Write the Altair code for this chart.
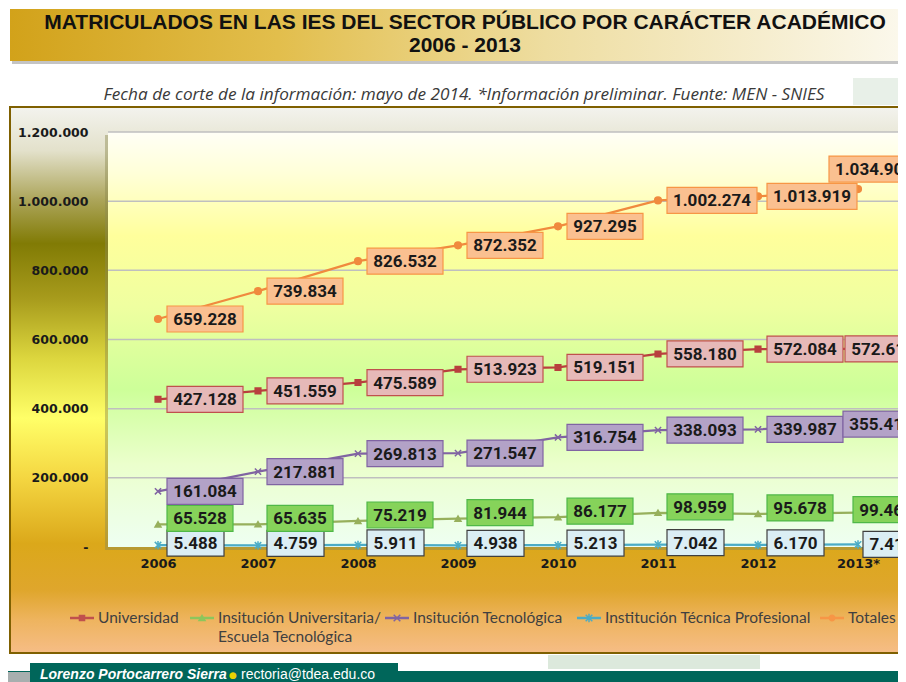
import altair as alt
import pandas as pd

# ---------------- data ----------------
years = [2006, 2007, 2008, 2009, 2010, 2011, 2012, 2013]
year_labels = ["2006", "2007", "2008", "2009", "2010", "2011", "2012", "2013*"]
series_names = [
    "Universidad",
    "Insitución Universitaria/ Escuela Tecnológica",
    "Insitución Tecnológica",
    "Institución Técnica Profesional",
    "Totales",
]
legend_lines = [
    ["Universidad"],
    ["Insitución Universitaria/", "Escuela Tecnológica"],
    ["Insitución Tecnológica"],
    ["Institución Técnica Profesional"],
    ["Totales"],
]
universidad = [427128, 451559, 475589, 513923, 519151, 558180, 572084, 572612]
inst_universitaria = [65528, 65635, 75219, 81944, 86177, 98959, 95678, 99463]
inst_tecnologica = [161084, 217881, 269813, 271547, 316754, 338093, 339987, 355414]
inst_tecnica = [5488, 4759, 5911, 4938, 5213, 7042, 6170, 7417]
totales = [659228, 739834, 826532, 872352, 927295, 1002274, 1013919, 1034906]
y_tick_values = [0, 200000, 400000, 600000, 800000, 1000000, 1200000]

title_line1 = "MATRICULADOS EN LAS IES DEL SECTOR PÚBLICO POR CARÁCTER ACADÉMICO"
title_line2 = "2006 - 2013"
subtitle = "Fecha de corte de la información: mayo de 2014. *Información preliminar. Fuente: MEN - SNIES"
footer_name = "Lorenzo Portocarrero Sierra"
footer_mail = "rectoria@tdea.edu.co"

# ---------------- styles ----------------
line_colors = ["#B8403E", "#97B05C", "#8064A2", "#4BACC6", "#F08A3E"]
legend_colors = ["#C0504D", "#8CC65C", "#8064A2", "#4BACC6", "#F79646"]
box_fill = ["#E6B9B8", "#86D35A", "#B3A2C7", "#DBEEF4", "#FAC090"]
box_stroke = ["#C0504D", "#4FB848", "#8064A2", "#3F3F3F", "#F79646"]
shapes = ["square", "triangle-up", "M-1,-1L1,1M-1,1L1,-1",
          "M-1,-1L1,1M-1,1L1,-1M0,-1.3L0,1.3", "circle"]
sizes = [32, 45, 55, 55, 36]

W, H = 790, 415
OX, OY = 108, 132  # page position of plot origin
RIGHT = OX + W     # page x of the right edge of the drawing


def px(x):
    return x - OX


def py(y):
    return y - OY


all_series = [universidad, inst_universitaria, inst_tecnologica, inst_tecnica, totales]


def fmt(v):
    return f"{v:,}".replace(",", ".")


rows = []
for si, (name, vals) in enumerate(zip(series_names, all_series)):
    for yr, v in zip(years, vals):
        rows.append(dict(series=name, si=si, year=yr, value=v, label=fmt(v)))
df = pd.DataFrame(rows)

xscale = alt.Scale(domain=[2005.5, 2005.5 + W / 100], nice=False, zero=False)
yscale = alt.Scale(domain=[0, 1200000], nice=False)
xlabel_expr = "[" + ",".join(f"'{s}'" for s in year_labels) + f"][datum.value - {years[0]}]"
xaxis = alt.Axis(values=years, labelExpr=xlabel_expr, title=None, domain=False, ticks=False,
                 grid=False, labelFont="DejaVu Sans", labelFontSize=13, labelFontWeight="bold",
                 labelColor="#1a1a1a", labelPadding=10, zindex=1)
yaxis = alt.Axis(values=y_tick_values,
                 labelExpr="datum.value == 0 ? '-' : replace(format(datum.value, ',d'), /,/g, '.')",
                 title=None, domain=False, ticks=False, grid=False, labelFont="DejaVu Sans",
                 labelFontSize=12.5, labelFontWeight="bold", labelColor="#1a1a1a",
                 labelPadding=20, zindex=1)

X = alt.X("year:Q", scale=xscale, axis=xaxis)
Y = alt.Y("value:Q", scale=yscale, axis=yaxis)

one = pd.DataFrame({"k": [0]})


def grad(stops, vertical=True):
    return alt.LinearGradient(
        gradient="linear", x1=0, y1=0, x2=0 if vertical else 1, y2=1 if vertical else 0,
        stops=[alt.GradientStop(offset=o, color=c) for o, c in stops])


def box(x1, y1, x2, y2, **kw):
    return alt.Chart(one).mark_rect(**kw).encode(
        x=alt.value(px(x1)), x2=alt.value(px(x2)), y=alt.value(py(y1)), y2=alt.value(py(y2)))


def txt(x, y, text, **kw):
    return alt.Chart(one).mark_text(text=text, **kw).encode(x=alt.value(px(x)), y=alt.value(py(y)))


layers = []

# outer frame
frame_stops = [(0.0, "#F3F3EE"), (0.08, "#E3E1CB"), (0.17, "#ACA55A"), (0.25, "#817B05"),
               (0.35, "#A79B1C"), (0.46, "#DCD63E"), (0.57, "#FFFF68"), (0.68, "#F4D641"),
               (0.80, "#DBA81A"), (0.885, "#DFA62C"), (0.94, "#EEB45F"), (1.0, "#F6BD86")]
layers.append(box(10, 107, RIGHT + 4, 653, color=grad(frame_stops), stroke="#7F6000", strokeWidth=2))

# banner
layers.append(box(12, 12, RIGHT + 4, 64, color="#C4C4C4"))
banner_stops = [(0.0, "#D2A21A"), (0.3, "#E2BE4C"), (0.6, "#EEDDA0"), (1.0, "#FBF8EC")]
layers.append(box(10, 9, RIGHT + 4, 61, color=grad(banner_stops, vertical=False)))
# subtitle decoration
layers.append(box(853, 78, RIGHT + 4, 105, color="#E8F0E8"))

# plot area shadow + background
layers.append(box(OX - 3, OY + 3, RIGHT, OY + H + 3, color="#8C8A50", opacity=0.45))
plot_stops = [(0.0, "#FFFFF6"), (0.1, "#FFFFD8"), (0.25, "#FFFF9C"), (0.42, "#EFFFA0"),
              (0.62, "#CDFF99"), (0.8, "#EBFFCC"), (1.0, "#EEFFF2")]
layers.append(box(OX, OY, RIGHT, OY + H, color=grad(plot_stops)))

# gridlines
layers.append(alt.Chart(pd.DataFrame({"value": y_tick_values[1:]})).mark_rule(
    color="#BFBFBF", strokeWidth=1.5).encode(y=Y, x=alt.value(0), x2=alt.value(W)))

# lines
layers.append(alt.Chart(df).mark_line(strokeWidth=2.25).encode(
    x=X, y=Y,
    color=alt.Color("series:N", scale=alt.Scale(domain=series_names, range=line_colors), legend=None)))

# points
layers.append(alt.Chart(df).mark_point(filled=True, strokeWidth=1.5, opacity=1).encode(
    x=X, y=Y,
    fill=alt.Fill("series:N", scale=alt.Scale(domain=series_names, range=line_colors), legend=None),
    stroke=alt.Stroke("series:N", scale=alt.Scale(domain=series_names, range=line_colors), legend=None),
    shape=alt.Shape("series:N", scale=alt.Scale(domain=series_names, range=shapes), legend=None),
    size=alt.Size("series:N", scale=alt.Scale(domain=series_names, range=sizes), legend=None)))


# label boxes
def placement(si, yr):
    if yr == years[-1]:
        return {0: -13, 1: -5, 2: -15, 3: 5, 4: -29}[si], {0: 0, 1: -3, 2: 0, 3: 0, 4: -20}[si]
    return 9, {1: -6, 3: -2}.get(si, 0)


def text_width(s):
    nd = sum(c.isdigit() for c in s)
    return round(9.56 * nd + 4.6 * (len(s) - nd) + 14)


groups = {}
for r in rows:
    dx, dy = placement(r["si"], r["year"])
    key = (r["si"], dx, dy, text_width(r["label"]))
    groups.setdefault(key, []).append(r)

for si in [3, 1, 2, 0, 4]:
    for key, grp in groups.items():
        if key[0] != si:
            continue
        _, dx, dy, w = key
        sub = pd.DataFrame(grp)
        layers.append(alt.Chart(sub).mark_rect(
            width=w, height=26, xOffset=dx + w / 2, yOffset=dy,
            fill=box_fill[si], stroke=box_stroke[si], strokeWidth=1.2).encode(x=X, y=Y))
        layers.append(alt.Chart(sub).mark_text(
            font="Roboto", fontSize=17, fontWeight="bold", color="#1a1a1a",
            align="center", baseline="middle", dx=dx + w / 2, dy=dy + 1).encode(
            x=X, y=Y, text="label:N"))

# legend
leg_sym_x = [70, 190, 385, 577, 820]
leg_y = 618
for i, lines in enumerate(legend_lines):
    sx = leg_sym_x[i]
    layers.append(alt.Chart(one).mark_rule(color=legend_colors[i], strokeWidth=2.5).encode(
        x=alt.value(px(sx)), x2=alt.value(px(sx + 24)), y=alt.value(py(leg_y))))
    layers.append(alt.Chart(one).mark_point(
        shape=shapes[i], size=sizes[i] * 0.8, filled=True, fill=legend_colors[i],
        stroke=legend_colors[i], strokeWidth=1.5, opacity=1).encode(
        x=alt.value(px(sx + 12)), y=alt.value(py(leg_y))))
    for j, ln in enumerate(lines):
        layers.append(txt(sx + 28, leg_y + 19 * j, ln, font="Lato", fontSize=15.5, color="#404040",
                          align="left", baseline="middle"))

# footer
layers.append(box(548, 655, 760, 669, color="#DCE9DC"))
layers.append(box(8, 671, RIGHT, 682, color="#00665A"))
layers.append(box(8, 672, 30, 682, color="#A7AFAF"))
layers.append(box(30, 663, 398, 682, color="#00665A"))
layers.append(txt(40, 675, footer_name, font="Liberation Sans", fontSize=14, fontStyle="italic",
                  fontWeight="bold", color="white", align="left", baseline="middle"))
layers.append(txt(233, 675, "●", font="DejaVu Sans", fontSize=9, color="#E8D400",
                  align="center", baseline="middle"))
layers.append(txt(241, 675, footer_mail, font="Liberation Sans", fontSize=14, color="white",
                  align="left", baseline="middle"))

# titles
layers.append(txt(465, 23, title_line1, font="Liberation Sans", fontSize=21, fontWeight="bold",
                  color="#111111", align="center", baseline="middle"))
layers.append(txt(465, 46, title_line2, font="Liberation Sans", fontSize=21, fontWeight="bold",
                  color="#111111", align="center", baseline="middle"))
layers.append(txt(464, 95, subtitle, font="Open Sans", fontSize=17.2, fontStyle="italic",
                  color="#3A3A3A", align="center", baseline="middle"))

chart = alt.layer(*layers).properties(
    width=W, height=H,
    autosize=alt.AutoSizeParams(type="none"),
    padding={"left": OX - 8, "top": OY - 8, "right": 0, "bottom": 674 - (OY - 8) - H},
    background="white",
).configure_view(strokeWidth=0)

chart.save("out.html", embed_options={"renderer": "svg", "actions": False})
